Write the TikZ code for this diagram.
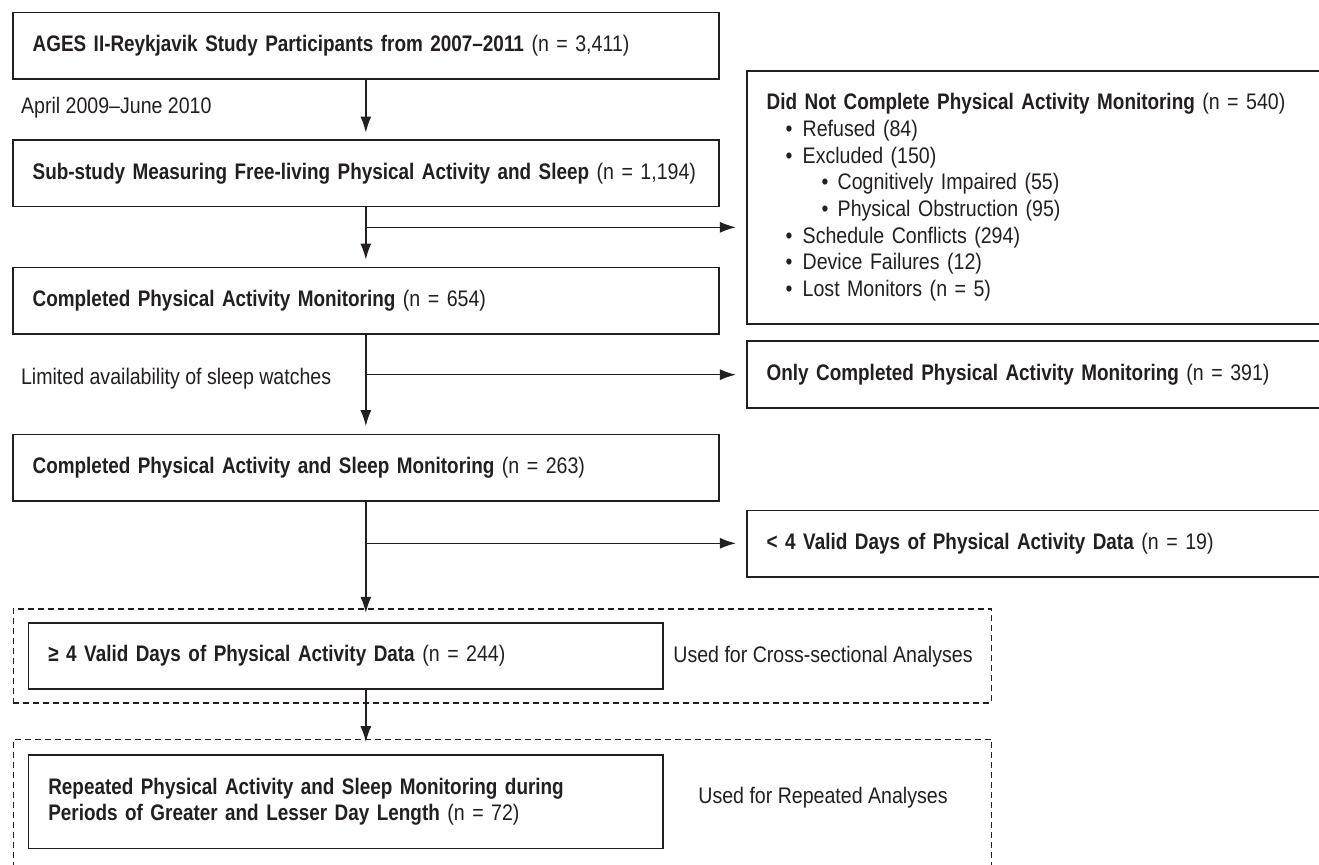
\documentclass[tikz,border=0pt]{standalone}
\usepackage{fontspec}
\setmainfont[FakeStretch=0.87,BoldFeatures={FakeStretch=0.84}]{Liberation Sans}
\usetikzlibrary{arrows.meta,calc}
\definecolor{ink}{HTML}{231F20}
\tikzset{
  box/.style={draw=ink, line width=0.8pt, rectangle, inner xsep=10pt, inner ysep=2pt, align=left, text=ink},
  leftbox/.style={box, minimum width=353.15pt, text width=333.15pt, minimum height=33.3pt},
  rightbox/.style={box, minimum width=296.65pt, text width=276.65pt},
  innerbox/.style={box, minimum width=317.2pt, text width=297.2pt},
  groupbox/.style={draw=ink, line width=0.6pt, dash pattern=on 3pt off 2pt, rectangle, minimum width=489.2pt, inner sep=0pt},
  lbl/.style={inner sep=0pt, text=ink},
  arr/.style={draw=ink, line width=0.7pt, -{Latex[length=8pt,width=5.5pt]}},
  conn/.style={draw=ink, line width=0.7pt}
}
\newcommand{\bul}[1]{\hspace*{9.5pt}\makebox[8.5pt][l]{•}#1}
\newcommand{\subbul}[1]{\hspace*{27.5pt}\makebox[8pt][l]{•}#1}
\begin{document}
\begin{tikzpicture}[x=0.5pt,y=-0.5pt,font=\fontsize{11.25pt}{13.35pt}\selectfont]
\useasboundingbox (0,0) rectangle (1319,864);
\clip (0,0) rectangle (1319,864);
\fill[white] (0,0) rectangle (1319,864);

% dashed grouping boxes
\node[groupbox, minimum height=47pt] (d1) at (502.5,656) {};
\node[groupbox, minimum height=80.35pt] (d2) at (502.5,819.65) {};

% main column
\node[leftbox] (b1) at (365.85,45.85) {\mbox{\textbf{AGES II-Reykjavik Study Participants from 2007–2011} (n = 3,411)}};
\node[leftbox] (b2) at (365.85,173.35) {\mbox{\textbf{Sub-study Measuring Free-living Physical Activity and Sleep} (n = 1,194)}};
\node[leftbox] (b3) at (365.85,300.65) {\textbf{Completed Physical Activity Monitoring} (n = 654)};
\node[leftbox] (b4) at (365.85,467.8) {\textbf{Completed Physical Activity and Sleep Monitoring} (n = 263)};
\node[innerbox, minimum height=33.15pt] (b5) at (345.5,655.85) {\textbf{≥ 4 Valid Days of Physical Activity Data} (n = 244)};
\node[innerbox, minimum height=46.65pt] (b6) at (345.5,801.65) {\textbf{Repeated Physical Activity and Sleep Monitoring during}\\\textbf{Periods of Greater and Lesser Day Length} (n = 72)};

% right column
\node[rightbox, minimum height=126.65pt] (r1) at (1043.35,197.35) {\textbf{Did Not Complete Physical Activity Monitoring} (n = 540)\\
\bul{Refused (84)}\\
\bul{Excluded (150)}\\
\subbul{Cognitively Impaired (55)}\\
\subbul{Physical Obstruction (95)}\\
\bul{Schedule Conflicts (294)}\\
\bul{Device Failures (12)}\\
\bul{Lost Monitors (n = 5)}};
\node[rightbox, minimum height=33.5pt] (r2) at (1043.35,374.5) {\textbf{Only Completed Physical Activity Monitoring} (n = 391)};
\node[rightbox, minimum height=33.35pt] (r3) at (1043.35,543.65) {\textbf{< 4 Valid Days of Physical Activity Data} (n = 19)};

% labels
\node[lbl, anchor=base west] (l1) at (20.7,113.3) {April 2009–June 2010};
\node[lbl, anchor=base west] (l2) at (20.7,384) {Limited availability of sleep watches};
\node[lbl, anchor=base] (l3) at (823,662) {Used for Cross-sectional Analyses};
\node[lbl, anchor=base] (l4) at (823,803) {Used for Repeated Analyses};

% branch points
\coordinate (j1) at (365.85,227.3);
\coordinate (j2) at (365.85,374.7);
\coordinate (j3) at (365.85,543.3);
\coordinate (s5) at (365.85,689);

% connectors
\draw[arr, shorten >=3.35pt] (b1.south) -- (b2.north);
\draw[arr, shorten >=3.5pt] (b2.south) -- (b3.north);
\draw[arr, shorten >=3.8pt] (b3.south) -- (b4.north);
\draw[arr] (b4.south) -- ([yshift=-2.2pt]b4.south |- d1.north);
\draw[arr] (s5) -- ([yshift=-1.7pt]s5 |- d2.north);
\draw[arr, shorten >=5pt] (j1) -- (j1 -| r1.west);
\draw[arr, shorten >=5pt] (j2) -- (j2 -| r2.west);
\draw[arr, shorten >=5pt] (j3) -- (j3 -| r3.west);
\end{tikzpicture}
\end{document}
